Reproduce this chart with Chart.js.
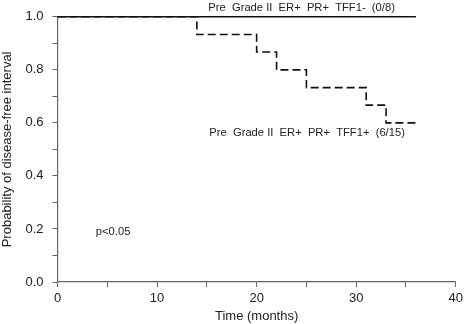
<!DOCTYPE html>
<html>
<head>
<meta charset="utf-8">
<script src="https://cdn.jsdelivr.net/npm/chart.js@4"></script>
<style>
  html, body { margin: 0; padding: 0; background: #fff; }
  #wrap { width: 467px; height: 324px; }
</style>
</head>
<body>
<div id="wrap"><canvas id="myChart" width="467" height="324"></canvas></div>
<script>
// data block
const negTimes = [0, 36];
const negSurv = [1, 1];
const posTimes = [0, 14, 20, 22, 25, 31, 33, 36];
const posSurv = [1, 0.933, 0.867, 0.8, 0.733, 0.667, 0.6, 0.6];
const negLabel = "Pre  Grade II  ER+  PR+  TFF1-  (0/8)";
const posLabel = "Pre  Grade II  ER+  PR+  TFF1+  (6/15)";
const pLabel = "p<0.05";
// where each note sits, in data units
const notes = [
  { text: negLabel, x: 15.15, y: 1.034 },
  { text: posLabel, x: 15.25, y: 0.562 },
  { text: pLabel, x: 3.85, y: 0.188 },
];

const toPoints = (xs, ys) => xs.map((x, i) => ({ x: x, y: ys[i] }));

// draw the text notes from the scales
const notePlugin = {
  id: "notes",
  afterDraw(chart) {
    const ctx = chart.ctx;
    const xs = chart.scales.x;
    const ys = chart.scales.y;
    ctx.save();
    ctx.font = "11.2px 'Liberation Sans', Arial, sans-serif";
    ctx.fillStyle = "#222";
    ctx.textAlign = "left";
    ctx.textBaseline = "middle";
    notes.forEach((n) => {
      ctx.fillText(n.text, xs.getPixelForValue(n.x), ys.getPixelForValue(n.y));
    });
    ctx.restore();
  },
};

const font = { family: "'Liberation Sans', Arial, sans-serif", size: 13 };

const config = {
  type: "line",
  data: {
    datasets: [
      {
        data: toPoints(negTimes, negSurv),
        borderColor: "#111",
        borderWidth: 1.6,
        stepped: "before",
        pointRadius: 0,
        clip: 6,
      },
      {
        data: toPoints(posTimes, posSurv),
        borderColor: "#111",
        borderWidth: 1.6,
        borderDash: [8, 4],
        stepped: "before",
        pointRadius: 0,
        clip: 6,
      },
    ],
  },
  options: {
    responsive: false,
    animation: false,
    layout: { padding: { top: 15, right: 9 } },
    plugins: { legend: { display: false }, tooltip: { enabled: false } },
    scales: {
      x: {
        type: "linear",
        min: 0,
        max: 40,
        afterFit: (s) => { s.height = 42; },
        border: { color: "#666", width: 1.2 },
        grid: { drawOnChartArea: false, color: "#666", tickLength: 5 },
        ticks: {
          stepSize: 5,
          color: "#222",
          font: font,
          padding: 4,
          maxRotation: 0,
          callback: (v) => (v % 10 === 0 ? String(v) : ""),
        },
        title: { display: true, text: "Time (months)", color: "#222", font: font, padding: { top: 0, bottom: 0 } },
      },
      y: {
        min: 0,
        max: 1,
        afterFit: (s) => { s.width = 57.5; },
        border: { color: "#666", width: 1.2 },
        grid: { drawOnChartArea: false, color: "#666", tickLength: 5 },
        ticks: {
          stepSize: 0.1,
          color: "#222",
          font: font,
          padding: 9,
          callback: (v) => (Math.round(v * 10) % 2 === 0 ? v.toFixed(1) : ""),
        },
        title: { display: true, text: "Probability of disease-free interval", color: "#222", font: font, padding: { top: 0, bottom: 0 } },
      },
    },
  },
  plugins: [notePlugin],
};

const myChart = new Chart(document.getElementById("myChart"), config);
</script>
</body>
</html>
